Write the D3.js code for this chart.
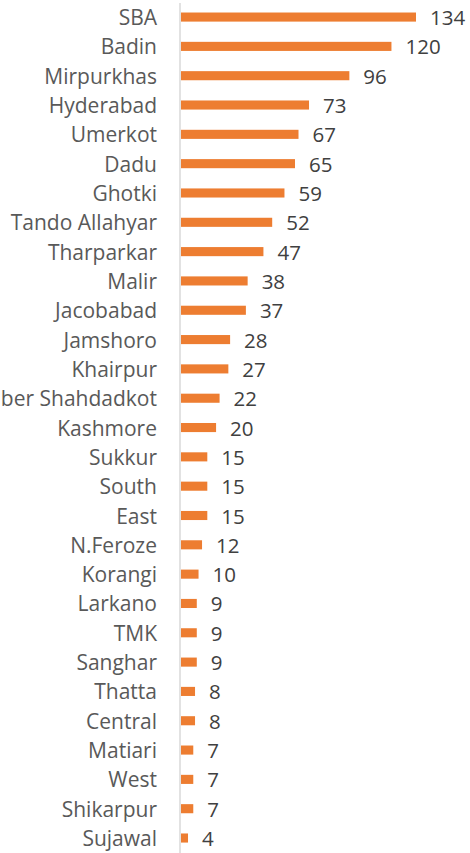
<!DOCTYPE html>
<html lang="en">
<head>
    <meta charset="UTF-8">
    <title>Districts</title>
    <style>
        body { margin: 0; background: #fff; }
    </style>
</head>
<body>
<script src="https://d3js.org/d3.v7.min.js"></script>
<script>
    // Data
    const districts = ["SBA", "Badin", "Mirpurkhas", "Hyderabad", "Umerkot", "Dadu", "Ghotki",
        "Tando Allahyar", "Tharparkar", "Malir", "Jacobabad", "Jamshoro", "Khairpur",
        "Qamber Shahdadkot", "Kashmore", "Sukkur", "South", "East", "N.Feroze", "Korangi",
        "Larkano", "TMK", "Sanghar", "Thatta", "Central", "Matiari", "West", "Shikarpur", "Sujawal"];
    const counts = [134, 120, 96, 73, 67, 65, 59, 52, 47, 38, 37, 28, 27, 22, 20, 15, 15, 15,
        12, 10, 9, 9, 9, 8, 8, 7, 7, 7, 4];

    const width = 470;
    const height = 853;
    const xStart = 181;
    const yStart = 2.4;

    const svg = d3.select("body")
        .append("svg")
        .attr("width", width)
        .attr("height", height);

    const x = d3.scaleLinear()
        .domain([0, 134])
        .range([xStart, 416]);

    const y = d3.scaleBand()
        .domain(districts)
        .range([yStart, yStart + 29.32 * 29])
        .paddingInner(0.69)
        .paddingOuter(0.345);

    // bars
    svg.selectAll("rect.bar")
        .data(districts)
        .enter()
        .append("rect")
        .attr("class", "bar")
        .attr("x", x(0))
        .attr("y", d => y(d))
        .attr("width", (d, i) => x(counts[i]) - x(0))
        .attr("height", y.bandwidth())
        .attr("fill", "#ed7d31");

    // axis line
    svg.append("line")
        .attr("x1", 180).attr("x2", 180)
        .attr("y1", 3).attr("y2", height)
        .attr("stroke", "#d9d9d9")
        .attr("stroke-width", 1.5);

    // category labels
    svg.selectAll("text.cat")
        .data(districts)
        .enter()
        .append("text")
        .attr("class", "cat")
        .attr("x", 157)
        .attr("y", d => y(d) + y.bandwidth() / 2 + 8)
        .attr("text-anchor", "end")
        .attr("font-family", "Open Sans, sans-serif")
        .attr("font-size", 21)
        .attr("fill", "#595959")
        .text(d => d);

    // value labels
    svg.selectAll("text.val")
        .data(districts)
        .enter()
        .append("text")
        .attr("class", "val")
        .attr("x", (d, i) => x(counts[i]) + 14)
        .attr("y", d => y(d) + y.bandwidth() / 2 + 8)
        .attr("font-family", "Open Sans, sans-serif")
        .attr("font-size", 20.5)
        .attr("fill", "#404040")
        .text((d, i) => counts[i]);
</script>
</body>
</html>
